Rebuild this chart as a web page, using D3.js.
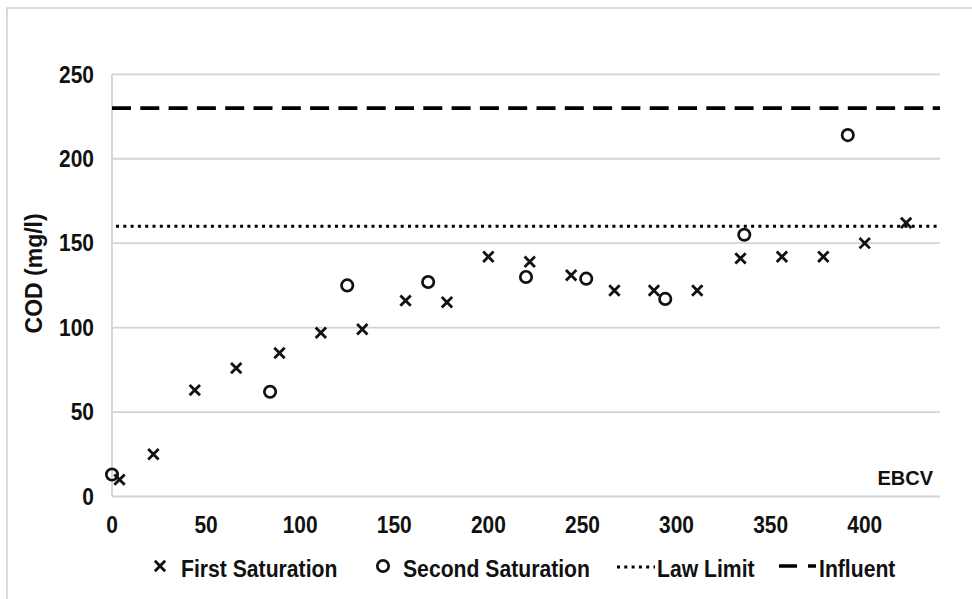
<!DOCTYPE html>
<html>
<head>
<meta charset="utf-8">
<script src="https://cdn.jsdelivr.net/npm/d3@7/dist/d3.min.js"></script>
<style>
  body { margin: 0; background: #fff; }
  svg text { font-family: "Liberation Sans", Arial, sans-serif; font-weight: bold; fill: #111; }
</style>
</head>
<body>
<div id="chart"></div>
<script>
// First saturation run (x markers)
const firstX = [4, 22, 44, 66, 89, 111, 133, 156, 178, 200, 222, 244, 267, 288, 311, 334, 356, 378, 400, 422];
const firstY = [10, 25, 63, 76, 85, 97, 99, 116, 115, 142, 139, 131, 122, 122, 122, 141, 142, 142, 150, 162];

// Second saturation run (circles)
const secondX = [0, 84, 125, 168, 220, 252, 294, 336, 391];
const secondY = [13, 62, 125, 127, 130, 129, 117, 155, 214];

// reference levels
const lawLimit = 160;
const influent = 230;

const xTicks = [0, 50, 100, 150, 200, 250, 300, 350, 400];
const yTicks = [0, 50, 100, 150, 200, 250];

const legendLabels = ["First Saturation", "Second Saturation", "Law Limit", "Influent"];

let W = 972, H = 599;
let margin = {top: 74.3, right: 32, bottom: 102.5, left: 112},
    width = W - margin.left - margin.right,
    height = H - margin.top - margin.bottom;

let svg = d3.select("#chart").append("svg")
    .attr("width", W)
    .attr("height", H);

// the text in the source is a little narrower than Liberation Sans
function squeeze(sel, k) {
    sel.each(function() {
        let len = this.getComputedTextLength();
        d3.select(this)
            .attr("textLength", len * k)
            .attr("lengthAdjust", "spacingAndGlyphs");
    });
}

// outer frame (runs off the right and bottom edges)
svg.append("rect")
    .attr("x", 7).attr("y", 8)
    .attr("width", W + 20).attr("height", H + 20)
    .attr("fill", "none")
    .attr("stroke", "#cfcfcf")
    .attr("stroke-width", 1.5);

let x = d3.scaleLinear().domain([0, 440]).range([0, width]);
let y = d3.scaleLinear().domain([0, 250]).range([height, 0]);

let g = svg.append("g")
    .attr("transform", "translate(" + margin.left + "," + margin.top + ")");

// horizontal grid lines
g.selectAll(".grid")
    .data(yTicks)
    .enter().append("line")
    .attr("x1", 0).attr("x2", width)
    .attr("y1", d => y(d)).attr("y2", d => y(d))
    .attr("stroke", "#d4d4d4")
    .attr("stroke-width", 1.8);

// y axis line
g.append("line")
    .attr("x1", 0).attr("x2", 0)
    .attr("y1", 0).attr("y2", height)
    .attr("stroke", "#d4d4d4")
    .attr("stroke-width", 1.8);

// tick labels
g.selectAll(".ylab")
    .data(yTicks)
    .enter().append("text")
    .attr("x", -18)
    .attr("y", d => y(d))
    .attr("dy", "0.36em")
    .attr("text-anchor", "end")
    .style("font-size", "23px")
    .text(d => d)
    .call(squeeze, 0.91);

g.selectAll(".xlab")
    .data(xTicks)
    .enter().append("text")
    .attr("x", d => x(d))
    .attr("y", height + 37)
    .attr("text-anchor", "middle")
    .style("font-size", "23px")
    .text(d => d)
    .call(squeeze, 0.91);

svg.append("text")
    .attr("transform", "translate(42," + (margin.top + height / 2 - 12) + ") rotate(-90)")
    .attr("text-anchor", "middle")
    .style("font-size", "23px")
    .text("COD (mg/l)");

g.append("text")
    .attr("x", width - 7)
    .attr("y", height - 11)
    .attr("text-anchor", "end")
    .style("font-size", "20px")
    .text("EBCV");

// reference lines
g.append("line")
    .attr("x1", 0).attr("x2", width)
    .attr("y1", y(influent)).attr("y2", y(influent))
    .attr("stroke", "#000")
    .attr("stroke-width", 3.6)
    .attr("stroke-dasharray", "19,9.3");

g.append("line")
    .attr("x1", 4).attr("x2", width)
    .attr("y1", y(lawLimit)).attr("y2", y(lawLimit))
    .attr("stroke", "#000")
    .attr("stroke-width", 3)
    .attr("stroke-dasharray", "3,4.3");

function crossPath(s) {
    return "M" + (-s) + "," + (-s) + "L" + s + "," + s + "M" + (-s) + "," + s + "L" + s + "," + (-s);
}

let first = firstX.map((d, i) => ({x: d, y: firstY[i]}));
let second = secondX.map((d, i) => ({x: d, y: secondY[i]}));

g.selectAll(".first")
    .data(first)
    .enter().append("path")
    .attr("transform", d => "translate(" + x(d.x) + "," + y(d.y) + ")")
    .attr("d", crossPath(5.2))
    .attr("stroke", "#111")
    .attr("stroke-width", 2.8)
    .attr("fill", "none");

g.selectAll(".second")
    .data(second)
    .enter().append("circle")
    .attr("cx", d => x(d.x))
    .attr("cy", d => y(d.y))
    .attr("r", 5.7)
    .attr("stroke", "#111")
    .attr("stroke-width", 2.7)
    .attr("fill", "none");

// legend
let legend = svg.append("g");
let ly = 566;

legend.append("path")
    .attr("transform", "translate(160," + ly + ")")
    .attr("d", crossPath(5.2))
    .attr("stroke", "#111").attr("stroke-width", 2.8).attr("fill", "none");
legend.append("circle")
    .attr("cx", 383).attr("cy", ly).attr("r", 5.7)
    .attr("stroke", "#111").attr("stroke-width", 2.7).attr("fill", "none");
legend.append("line")
    .attr("x1", 617).attr("x2", 655)
    .attr("y1", ly + 1).attr("y2", ly + 1)
    .attr("stroke", "#000").attr("stroke-width", 3)
    .attr("stroke-dasharray", "3,4.3");
legend.append("line")
    .attr("x1", 779).attr("x2", 816)
    .attr("y1", ly).attr("y2", ly)
    .attr("stroke", "#000").attr("stroke-width", 3.6)
    .attr("stroke-dasharray", "18,11");

let legendX = [181, 403, 657, 819];
legend.selectAll(".ltext")
    .data(legendLabels)
    .enter().append("text")
    .attr("x", (d, i) => legendX[i])
    .attr("y", 577)
    .style("font-size", "23px")
    .text(d => d)
    .call(squeeze, 0.92);
</script>
</body>
</html>
